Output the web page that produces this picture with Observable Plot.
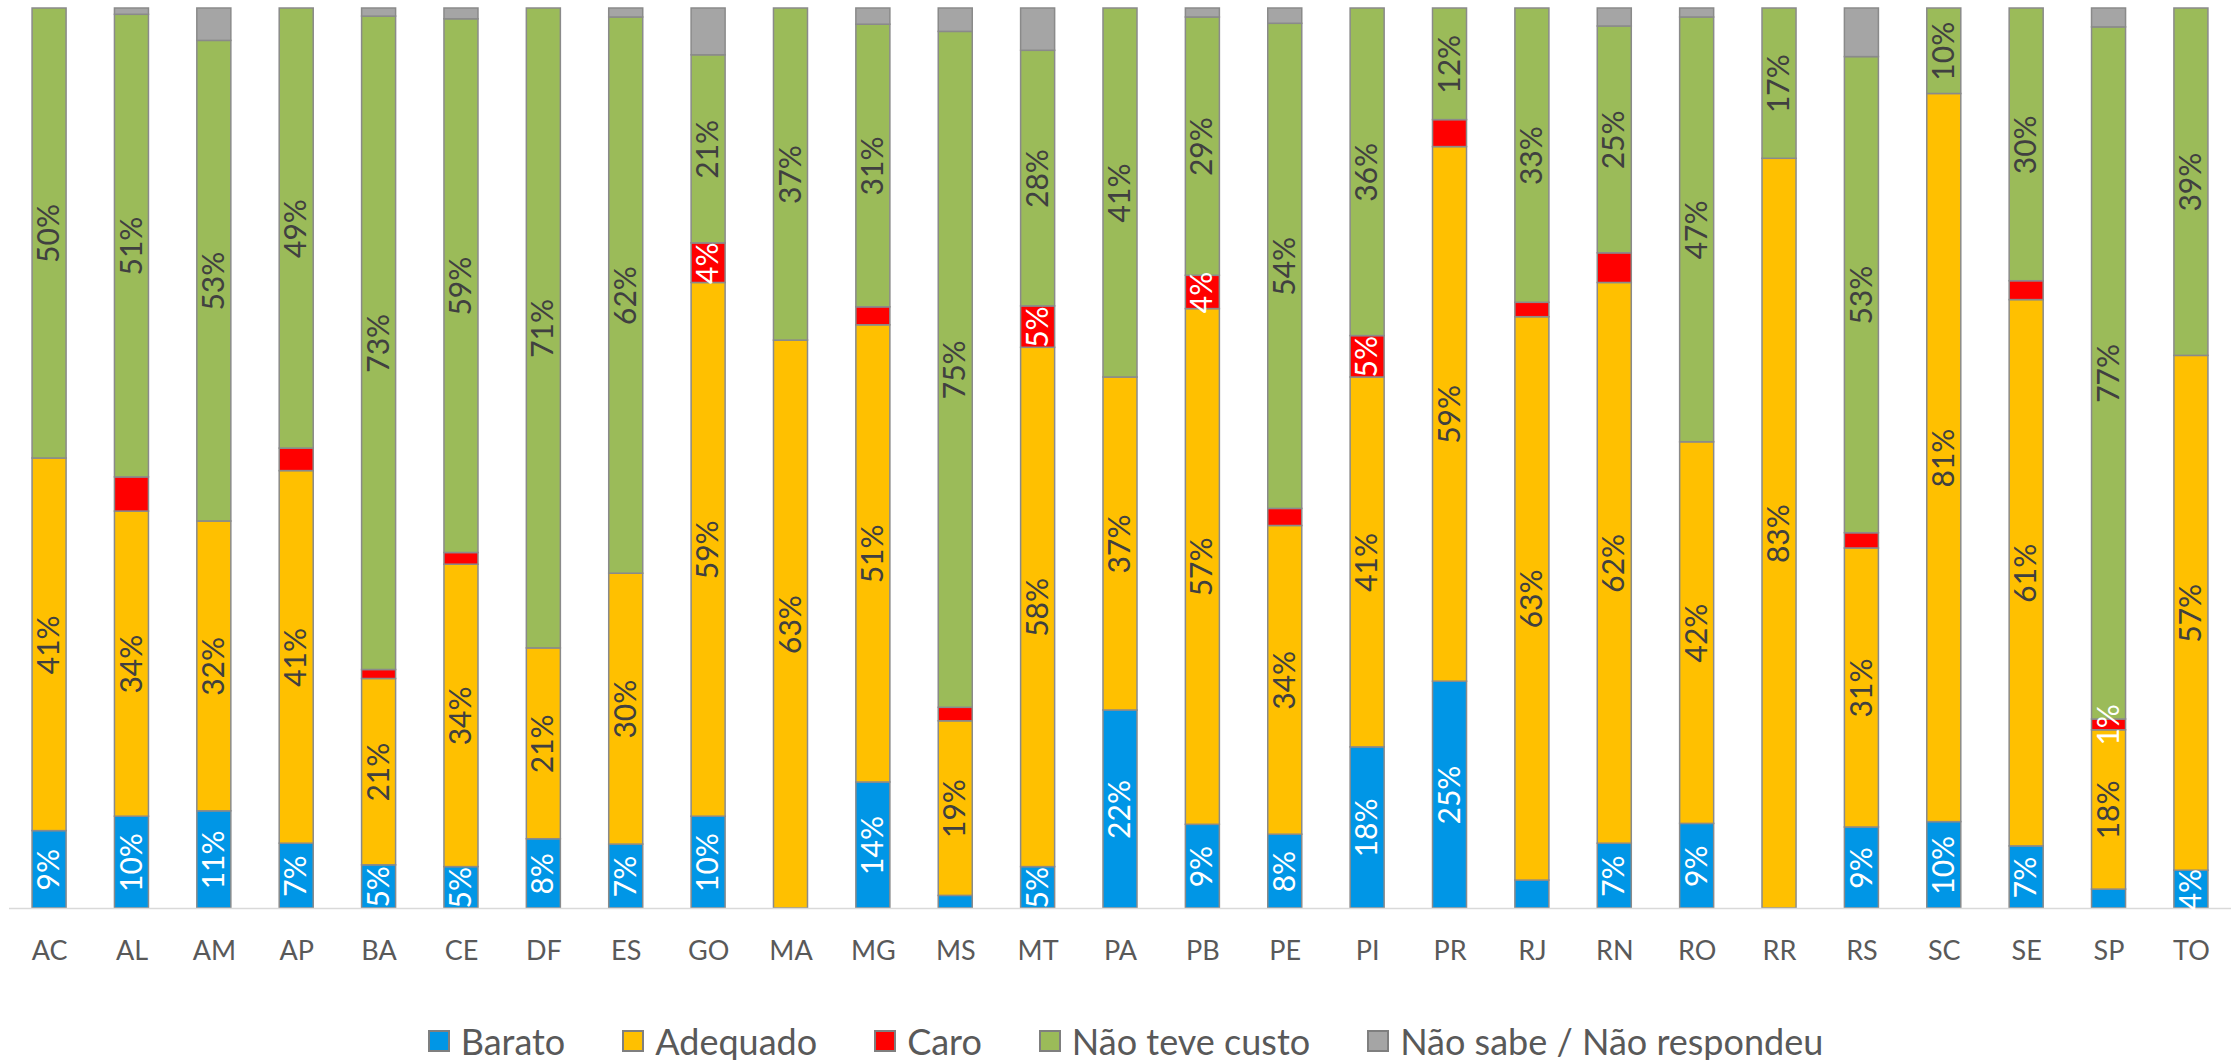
<!DOCTYPE html>
<html>
<head>
<meta charset="utf-8">
<script src="https://cdn.jsdelivr.net/npm/d3@7"></script>
<script src="https://cdn.jsdelivr.net/npm/@observablehq/plot@0.6"></script>
<style>
  html, body { margin: 0; padding: 0; background: #fff; overflow: hidden; }
  #chart svg { display: block; }
  #legend { height: 50px; padding-top: 12px; box-sizing: border-box; display: flex; justify-content: center; align-items: center; padding-left: 18px; }
  #legend .lg-swatches { font-family: Lato, "Open Sans", sans-serif; font-size: 36px; color: #595959; margin: 0 !important; min-height: 0 !important; display: flex; align-items: center; }
  #legend .lg-swatch { margin-right: 58px !important; display: inline-flex; align-items: center; }
  #legend .lg-swatch:last-child { margin-right: 0 !important; }
  #legend .lg-swatch svg { margin-right: 12px !important; overflow: visible; }
  #legend .lg-swatch svg rect { stroke: #7f7f7f; stroke-width: 2px; }
</style>
</head>
<body>
<div id="chart"></div>
<div id="legend"></div>
<script>
const states = ["AC","AL","AM","AP","BA","CE","DF","ES","GO","MA","MG","MS","MT","PA","PB","PE","PI","PR","RJ","RN","RO","RR","RS","SC","SE","SP","TO"];
const barato       = [8.6, 10.2, 10.8, 7.2, 4.8, 4.6, 7.7, 7.1, 10.2, 0,    14.0, 1.4, 4.6, 22.0, 9.3, 8.2, 17.9, 25.2, 3.1, 7.2, 9.4, 0,    9.0, 9.6, 6.9, 2.1, 4.2];
const adequado     = [41.4, 33.9, 32.2, 41.4, 20.7, 33.6, 21.2, 30.1, 59.3, 63.1, 50.8, 19.4, 57.7, 37.0, 57.3, 34.3, 41.1, 59.4, 62.6, 62.3, 42.4, 83.3, 31.0, 80.9, 60.7, 17.7, 57.2];
const caro         = [0,   3.8, 0,   2.5, 1.0, 1.3, 0,   0,   4.4, 0,    2.0, 1.5, 4.6, 0,   3.7, 1.9, 4.6, 3.0, 1.6, 3.3, 0,   0,    1.7, 0,   2.1, 1.2, 0];
const naoTeveCusto = [50.0, 51.4, 53.4, 48.9, 72.6, 59.3, 71.1, 61.8, 20.9, 36.9, 31.4, 75.1, 28.4, 41.0, 28.7, 53.9, 36.4, 12.4, 32.7, 25.2, 47.2, 16.7, 52.9, 9.5, 30.3, 76.9, 38.6];
const naoSabe      = [0,   0.7, 3.6, 0,   0.9, 1.2, 0,   1.0, 5.2, 0,    1.8, 2.6, 4.7, 0,   1.0, 1.7, 0,   0,   0,   2.0, 1.0, 0,    5.4, 0,   0,   2.1, 0];

const series = ["Barato", "Adequado", "Caro", "Não teve custo", "Não sabe / Não respondeu"];
const colors = ["#0096E6", "#FFC000", "#FF0000", "#9BBB59", "#A5A5A5"];
const caroLabeled = ["GO", "MT", "PB", "PI", "SP"];

const columns = [barato, adequado, caro, naoTeveCusto, naoSabe];
const data = [];
states.forEach((s, i) => series.forEach((k, j) => data.push({state: s, series: k, value: columns[j][i]})));

const pct = v => Math.round(v) + "%";
function labelWhite(d) {
  if (d.value <= 0) return null;
  if (d.series === "Barato") return d.value >= 3.5 ? pct(d.value) : null;
  if (d.series === "Caro") return caroLabeled.includes(d.state) ? pct(d.value) : null;
  return null;
}
function labelDark(d) {
  if (d.value <= 0) return null;
  if (d.series === "Adequado" || d.series === "Não teve custo") return pct(d.value);
  return null;
}

const font = "Lato, 'Open Sans', sans-serif";
const chart = Plot.plot({
  width: 2234,
  height: 1010,
  marginTop: 8,
  marginBottom: 102,
  marginLeft: 9,
  marginRight: 3,
  style: {fontFamily: font, color: "#595959", background: "#fff"},
  x: {domain: states, paddingInner: 0.587, paddingOuter: 0.28, round: false, label: null},
  y: {domain: [0, 100], axis: null},
  color: {domain: series, range: colors},
  marks: [
    Plot.barY(data, {x: "state", y: "value", fill: "series", stroke: "#8a8a8a", strokeWidth: 1.5, filter: d => d.value > 0}),
    Plot.ruleY([0], {stroke: "#d9d9d9", strokeWidth: 1.5}),
    Plot.text(data, Plot.stackY({x: "state", y: "value", z: "series", text: labelWhite, rotate: -90, fill: "white", fontSize: 30})),
    Plot.text(data, Plot.stackY({x: "state", y: "value", z: "series", text: labelDark, rotate: -90, fill: "#404040", fontSize: 30})),
    Plot.axisX({tickSize: 0, tickPadding: 32, fontSize: 27, label: null})
  ]
});
document.getElementById("chart").appendChild(chart);

const legend = Plot.legend({color: {domain: series, range: colors}, swatchSize: 20, className: "lg"});
document.getElementById("legend").appendChild(legend);
</script>
</body>
</html>
